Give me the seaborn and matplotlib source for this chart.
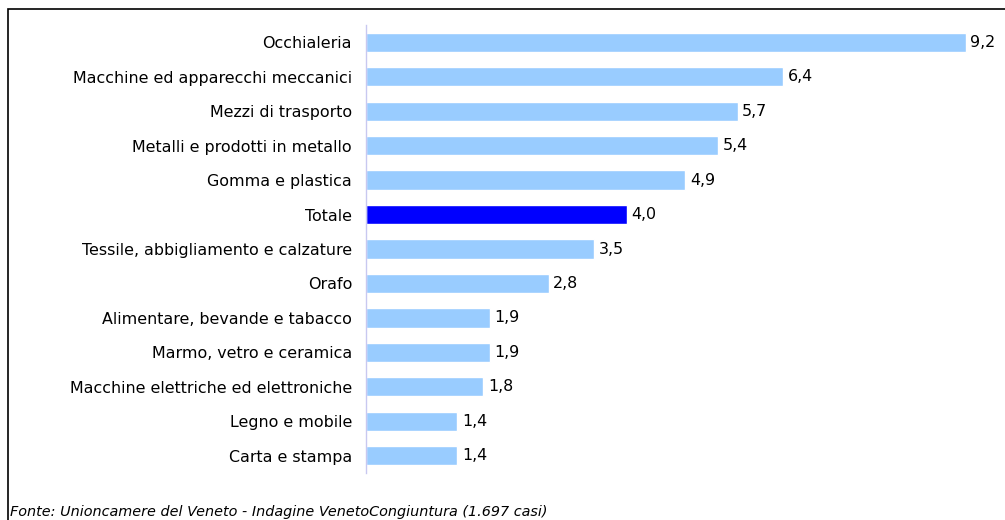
import matplotlib
matplotlib.use("Agg")
import matplotlib.pyplot as plt
import matplotlib.patches as mpatches
import seaborn as sns

# Data
categories = [
    "Occhialeria",
    "Macchine ed apparecchi meccanici",
    "Mezzi di trasporto",
    "Metalli e prodotti in metallo",
    "Gomma e plastica",
    "Totale",
    "Tessile, abbigliamento e calzature",
    "Orafo",
    "Alimentare, bevande e tabacco",
    "Marmo, vetro e ceramica",
    "Macchine elettriche ed elettroniche",
    "Legno e mobile",
    "Carta e stampa",
]
values = [9.2, 6.4, 5.7, 5.4, 4.9, 4.0, 3.5, 2.8, 1.9, 1.9, 1.8, 1.4, 1.4]
highlight = "Totale"
source_note = "Fonte: Unioncamere del Veneto - Indagine VenetoCongiuntura (1.697 casi)"

light_blue = "#99CCFF"
dark_blue = "#0000FF"

sns.set_theme(style="white")
plt.rcParams["font.family"] = ["DejaVu Sans"]

fig = plt.figure(figsize=(10.05, 5.2), dpi=100)
ax = fig.add_axes([366 / 1005, 1 - 473 / 520, (1005 - 366) / 1005, (473 - 25) / 520])

palette = {c: (dark_blue if c == highlight else light_blue) for c in categories}
sns.barplot(x=values, y=categories, hue=categories, palette=palette,
            orient="h", width=0.56, legend=False, saturation=1, ax=ax)

ax.set_xlim(0, (1005 - 366) / 65.2)
ax.set_xlabel("")
ax.set_ylabel("")
ax.set_xticks([])
ax.tick_params(axis="y", length=0, pad=10, labelsize=11.4, labelcolor="black")

for side in ["top", "right", "bottom"]:
    ax.spines[side].set_visible(False)
ax.spines["left"].set_color("#C8C8F0")
ax.spines["left"].set_linewidth(1)

# value labels with comma decimals
for i, v in enumerate(values):
    ax.text(v + 0.07, i, f"{v:.1f}".replace(".", ","), va="center", ha="left",
            fontsize=11.4, color="black")

# outer frame (left and top edges visible)
frame = mpatches.Rectangle((8 / 1005, -0.5), 2, 1.5 - 9 / 520, transform=fig.transFigure,
                           fill=False, edgecolor="black", linewidth=1.2, clip_on=False)
fig.patches.append(frame)

fig.text(10 / 1005, 1 - 512 / 520, source_note, fontsize=10.4, style="italic",
         ha="left", va="center", color="black")

fig.savefig("out.png", dpi=100)
